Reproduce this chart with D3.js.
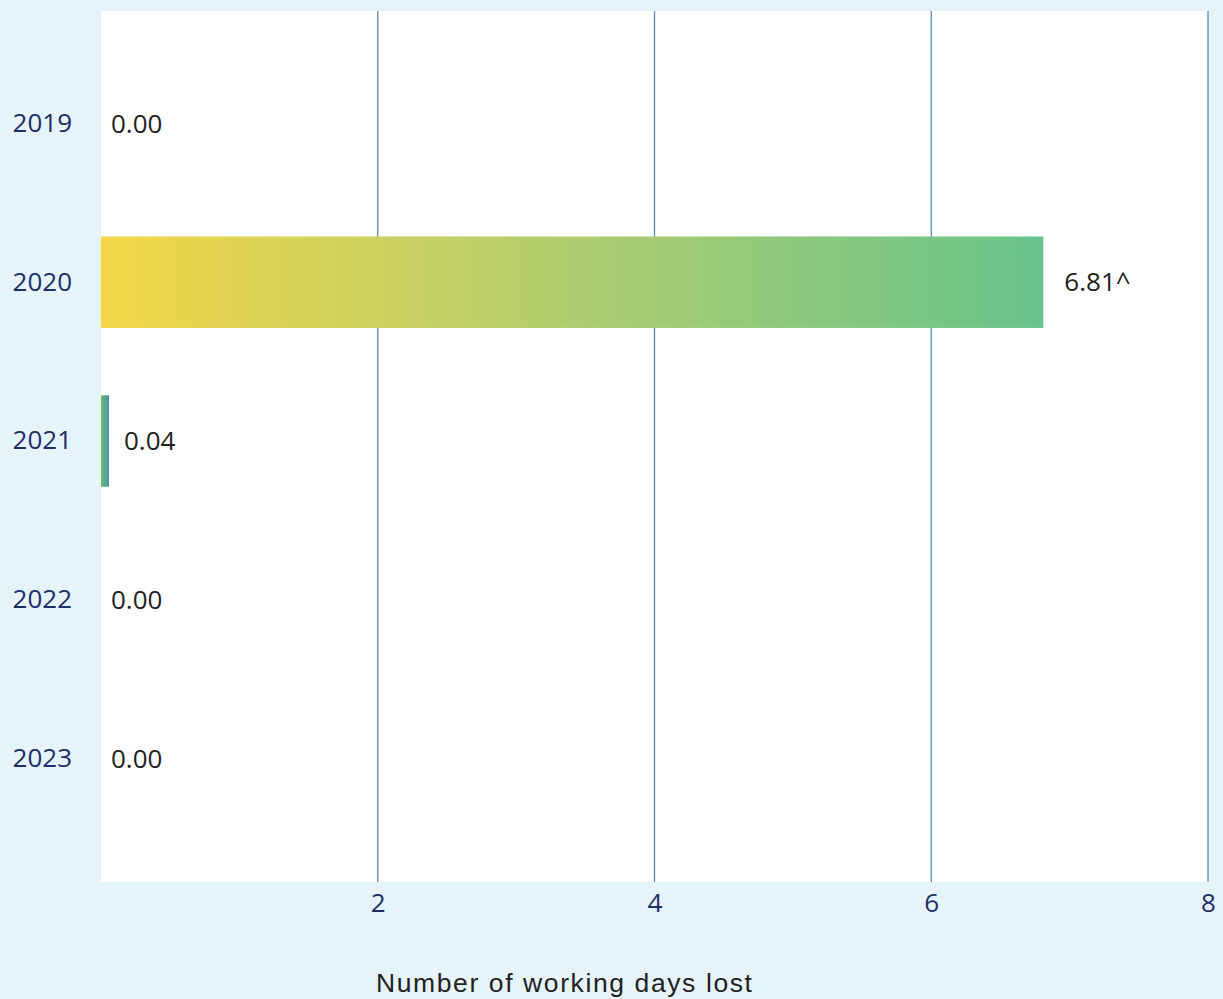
<!DOCTYPE html>
<html><head><meta charset="utf-8">
<script src="https://cdnjs.cloudflare.com/ajax/libs/d3/7.8.5/d3.min.js"></script>
<style>
html,body{margin:0;padding:0;background:#e4f4f8;}
svg{display:block;}
</style></head>
<body>
<svg id="chart" width="1223" height="999"></svg>
<script>
const years = ["2019","2020","2021","2022","2023"];
const values = [0.00, 6.81, 0.04, 0.00, 0.00];
const valueLabels = ["0.00","6.81^","0.04","0.00","0.00"];
const xTicks = [2,4,6,8];
const xTitle = "Number of working days lost";

const svg = d3.select("#chart");
const W = 1223, H = 999;
const plot = {left:101, right:1208, top:11, bottom:882};

svg.append("rect").attr("width",W).attr("height",H).attr("fill","#e4f4f8");
svg.append("rect").attr("x",plot.left).attr("y",plot.top)
  .attr("width",plot.right-plot.left).attr("height",plot.bottom-plot.top).attr("fill","#ffffff");

const x = d3.scaleLinear().domain([0,8]).range([plot.left, plot.right]);
const y = d3.scaleBand().domain(years).range([44,838]).paddingInner(0.424).paddingOuter(0.212);

const defs = svg.append("defs");
const g1 = defs.append("linearGradient").attr("id","grad2020").attr("x1","0%").attr("x2","100%").attr("y1","0%").attr("y2","0%");
g1.append("stop").attr("offset","0%").attr("stop-color","#f3d748");
g1.append("stop").attr("offset","50%").attr("stop-color","#b0cc70");
g1.append("stop").attr("offset","100%").attr("stop-color","#68c38c");
const g2 = defs.append("linearGradient").attr("id","grad2021").attr("x1","0%").attr("x2","100%").attr("y1","0%").attr("y2","0%");
g2.append("stop").attr("offset","0%").attr("stop-color","#6bbf5e");
g2.append("stop").attr("offset","100%").attr("stop-color","#4a8fbf");

// gridlines
svg.append("g").selectAll("line").data(xTicks).join("line")
  .attr("x1",d=>x(d)).attr("x2",d=>x(d)).attr("y1",plot.top).attr("y2",plot.bottom)
  .attr("stroke","#5a88bd").attr("stroke-width",1.3);

// bars
const gradFor = {"2020":"url(#grad2020)","2021":"url(#grad2021)"};
svg.append("g").selectAll("rect").data(years).join("rect")
  .attr("x",x(0))
  .attr("y",d=>y(d))
  .attr("height",y.bandwidth())
  .attr("width",(d,i)=> values[i]>0 ? Math.max(x(values[i])-x(0),8) : 0)
  .attr("fill",d=>gradFor[d]||"#6cc28a");

// value labels
svg.append("g").selectAll("text").data(years).join("text")
  .attr("x",(d,i)=>{
    const v=values[i];
    const end = v>0 ? x(0)+Math.max(x(v)-x(0),8) : x(0);
    return end + (v===0 ? 10 : (v<1 ? 15 : 21));
  })
  .attr("y",d=>y(d)+y.bandwidth()/2)
  .attr("dy","0.35em")
  .attr("font-family","'Open Sans', 'Noto Sans', sans-serif")
  .attr("font-size",26)
  .attr("fill","#222222")
  .text((d,i)=>valueLabels[i]);

// y axis labels
const yAxis = d3.axisLeft(y).tickSize(0).tickPadding(29);
const yg = svg.append("g").attr("transform",`translate(${plot.left},0)`).call(yAxis);
yg.select(".domain").remove();
yg.selectAll("text").attr("font-family","'Open Sans', 'Noto Sans', sans-serif")
  .attr("font-size",26).attr("fill","#1e2d6b");

// x axis labels
const xAxis = d3.axisBottom(x).tickValues(xTicks).tickSize(0).tickPadding(12).tickFormat(d3.format("d"));
const xg = svg.append("g").attr("transform",`translate(0,${plot.bottom})`).call(xAxis);
xg.select(".domain").remove();
xg.selectAll("text").attr("font-family","'Open Sans', 'Noto Sans', sans-serif")
  .attr("font-size",26).attr("fill","#1e2d6b");

// x title
svg.append("text").attr("x",376).attr("y",992)
  .attr("font-family","'Liberation Sans', Arial, sans-serif")
  .attr("font-size",26.5).attr("letter-spacing","1.6px").attr("fill","#222222")
  .text(xTitle);
</script>
</body></html>
